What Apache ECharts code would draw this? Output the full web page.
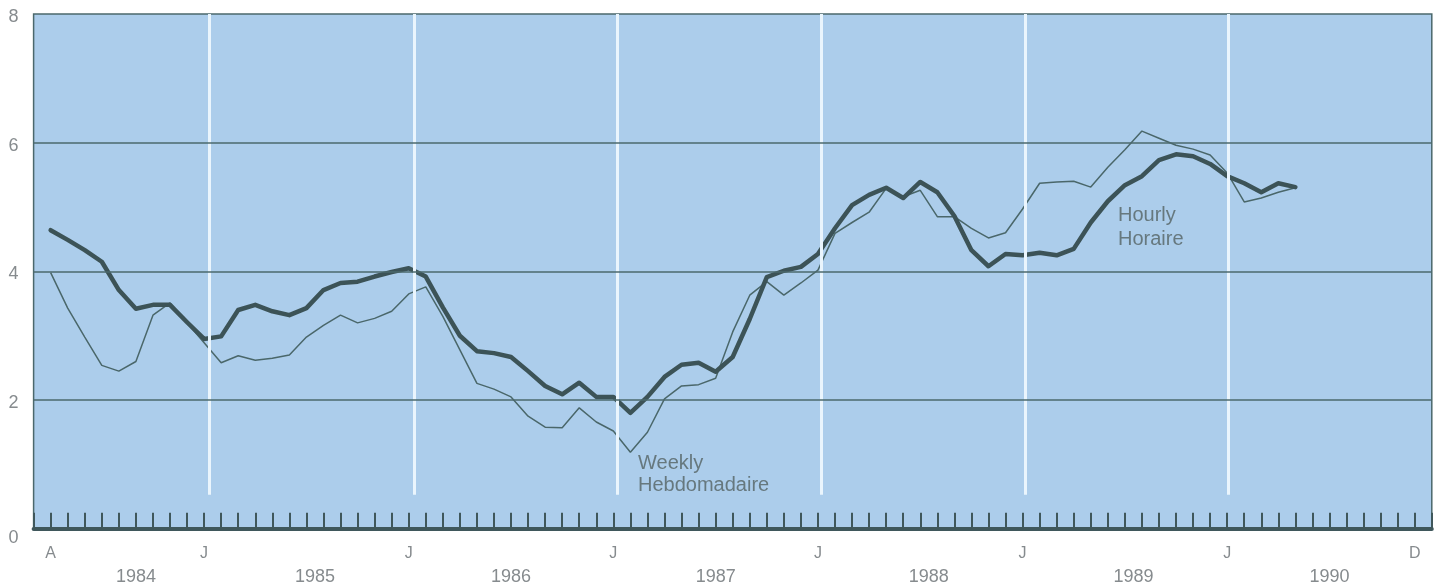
<!DOCTYPE html>
<html>
<head>
<meta charset="utf-8">
<script src="https://cdn.jsdelivr.net/npm/echarts@6/dist/echarts.min.js"></script>
<style>
  html, body { margin: 0; padding: 0; background: #fff; }
  #main { width: 1439px; height: 588px; }
</style>
</head>
<body>
<div id="main"></div>
<script>
// month index 0 = April 1984, 80 = December 1990
const hourly = [
  4.64, 4.49, 4.33, 4.15, 3.71, 3.42, 3.48, 3.48, 3.21, 2.95,
  2.99, 3.40, 3.48, 3.38, 3.32, 3.43, 3.71, 3.82, 3.84, 3.92,
  3.99, 4.05, 3.92, 3.44, 3.00, 2.76, 2.73, 2.67, 2.45, 2.22,
  2.09, 2.27, 2.05, 2.05, 1.80, 2.05, 2.36, 2.55, 2.58, 2.44,
  2.67, 3.26, 3.91, 4.01, 4.07, 4.27, 4.67, 5.03, 5.19, 5.30,
  5.14, 5.39, 5.23, 4.86, 4.33, 4.08, 4.27, 4.25, 4.29, 4.25,
  4.35, 4.76, 5.09, 5.34, 5.48, 5.73, 5.82, 5.79, 5.67, 5.48,
  5.37, 5.23, 5.37, 5.31
];
const weekly = [
  3.98, 3.43, 2.98, 2.54, 2.45, 2.60, 3.32, 3.51, 3.20, 2.89,
  2.58, 2.69, 2.62, 2.65, 2.70, 2.98, 3.16, 3.32, 3.20, 3.27,
  3.38, 3.65, 3.76, 3.30, 2.78, 2.26, 2.17, 2.05, 1.75, 1.58,
  1.57, 1.88, 1.66, 1.52, 1.19, 1.50, 2.02, 2.22, 2.24, 2.34,
  3.06, 3.63, 3.84, 3.63, 3.82, 4.02, 4.59, 4.76, 4.92, 5.29,
  5.16, 5.26, 4.85, 4.85, 4.67, 4.52, 4.60, 4.97, 5.37, 5.39,
  5.40, 5.31, 5.62, 5.89, 6.18, 6.07, 5.96, 5.90, 5.81, 5.53,
  5.08, 5.14, 5.23, 5.30
];

const monthLabelPos = [0, 9, 21, 33, 45, 57, 69, 80];
const monthLabelText = ['A', 'J', 'J', 'J', 'J', 'J', 'J', 'D'];
const yearLabelPos = [5, 15.5, 27, 39, 51.5, 63.5, 75];
const yearLabelText = ['1984', '1985', '1986', '1987', '1988', '1989', '1990'];
const yearMarks = [9.3, 21.3, 33.2, 45.2, 57.15, 69.05];
const gridValues = [2, 4, 6];

const ink = '#3f575b';
const grey = '#868b8e';
const font = 'Liberation Sans';

function findLabel(v, pos, txt) {
  for (let i = 0; i < pos.length; i++) {
    if (Math.abs(v - pos[i]) < 1e-6) return txt[i];
  }
  return '';
}

const chart = echarts.init(document.getElementById('main'));

const markData = [];
yearMarks.forEach(m => {
  markData.push([
    { coord: [m, 0.53], lineStyle: { color: '#eaf5fd', width: 3, type: 'solid' } },
    { coord: [m, 8] }
  ]);
});
gridValues.forEach(v => {
  markData.push([
    { coord: [-1, v], lineStyle: { color: '#4b686c', width: 1.5, type: 'solid' } },
    { coord: [81, v] }
  ]);
});

const option = {
  animation: false,
  grid: {
    left: 33.6, right: 7.2, top: 14, bottom: 59.2,
    show: true,
    backgroundColor: '#accdeb',
    borderColor: '#4b686c',
    borderWidth: 1.5
  },
  xAxis: [
    {
      type: 'value', min: -1, max: 81, interval: 1,
      axisLine: { show: true, onZero: false, lineStyle: { color: ink, width: 4 } },
      axisTick: { show: true, inside: true, length: 16, lineStyle: { color: ink, width: 2 } },
      splitLine: { show: false },
      axisLabel: {
        margin: 17, color: grey, fontSize: 16, fontFamily: font,
        formatter: v => findLabel(v, monthLabelPos, monthLabelText)
      }
    },
    {
      type: 'value', min: -1, max: 81, interval: 0.5, position: 'bottom',
      axisLine: { show: false }, axisTick: { show: false }, splitLine: { show: false },
      axisLabel: {
        margin: 39, color: grey, fontSize: 18, fontFamily: font,
        formatter: v => findLabel(v, yearLabelPos, yearLabelText)
      }
    }
  ],
  yAxis: {
    type: 'value', min: 0, max: 8, interval: 2,
    axisLine: { show: false }, axisTick: { show: false }, splitLine: { show: false },
    axisLabel: {
      margin: 15, color: grey, fontSize: 18, fontFamily: font,
      formatter: v => v === 0 ? '{z|0}' : '{n|' + v + '}',
      rich: {
        n: { color: grey, fontSize: 18, fontFamily: font, padding: [6, 0, 0, 0] },
        z: { color: grey, fontSize: 18, fontFamily: font, padding: [18, 0, 0, 0] }
      }
    }
  },
  series: [
    {
      type: 'line', data: [], z: 1, silent: true,
      markLine: {
        silent: true, symbol: 'none', animation: false,
        label: { show: false },
        data: markData
      }
    },
    {
      name: 'Weekly', type: 'line', z: 2,
      showSymbol: false, symbol: 'none',
      lineStyle: { color: '#4a676a', width: 1.5 },
      data: weekly.map((v, i) => [i, v])
    },
    {
      name: 'Hourly', type: 'line', z: 3,
      showSymbol: false, symbol: 'none',
      lineStyle: { color: '#3c5357', width: 4.5, join: 'round', cap: 'round' },
      data: hourly.map((v, i) => [i, v])
    }
  ],
  graphic: [
    {
      type: 'text', left: 638, top: 452, silent: true,
      style: { text: 'Weekly\nHebdomadaire', font: '20px ' + font, fill: '#66787e', lineHeight: 22 }
    },
    {
      type: 'text', left: 1118, top: 203, silent: true,
      style: { text: 'Hourly\nHoraire', font: '20px ' + font, fill: '#66787e', lineHeight: 24 }
    }
  ]
};

chart.setOption(option);
</script>
</body>
</html>
